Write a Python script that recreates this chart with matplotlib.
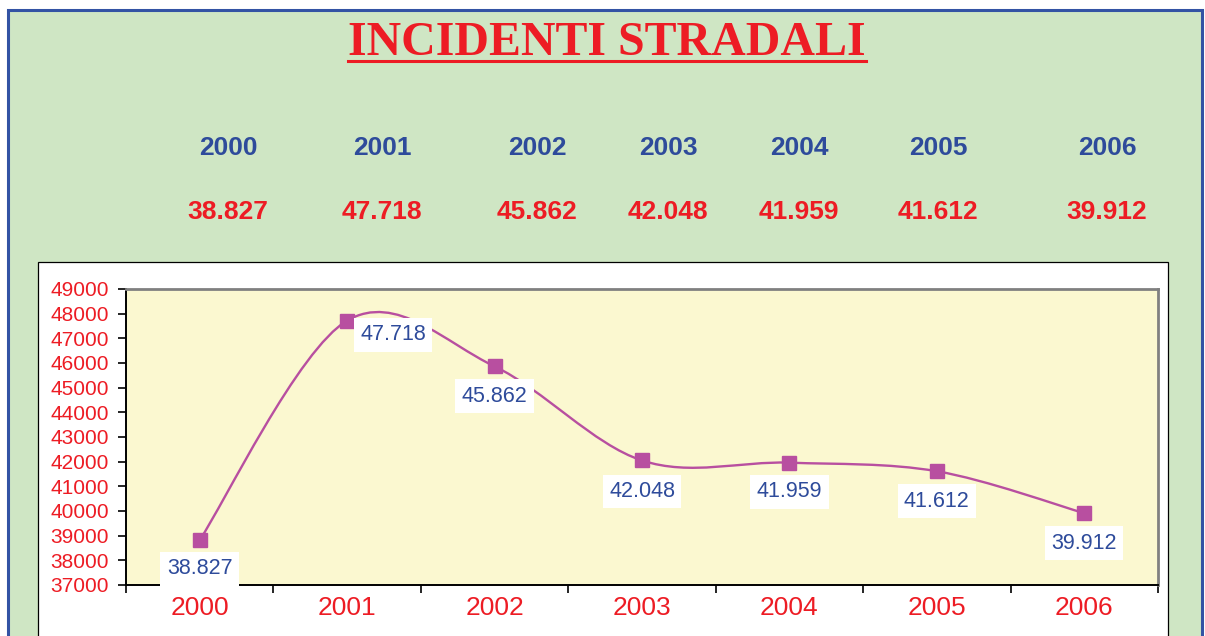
import numpy as np
import matplotlib
matplotlib.use("Agg")
import matplotlib.pyplot as plt
from matplotlib.patches import Rectangle, PathPatch
from matplotlib.path import Path

# data
years = ["2000", "2001", "2002", "2003", "2004", "2005", "2006"]
incidents = [38827, 47718, 45862, 42048, 41959, 41612, 39912]
value_labels = ["38.827", "47.718", "45.862", "42.048", "41.959", "41.612", "39.912"]

# header row x positions (pixels) and label offsets (pixels) - layout only
header_x = [228, 382, 537, 668, 799, 938, 1107]
label_offsets = [(0, -29), (46, -14), (0, -30), (0, -31), (0, -29), (0, -30), (0, -30)]

RED = "#ED1C24"
BLUE = "#2E4B9B"
LINE = "#B84FA0"
GREEN = "#CFE6C4"
YELLOW = "#FBF8D0"

W, H = 1205, 636
fig = plt.figure(figsize=(W / 100, H / 100), dpi=100, facecolor="white")

# background layer in pixel coords
bg = fig.add_axes([0, 0, 1, 1])
bg.set_xlim(0, W)
bg.set_ylim(H, 0)
bg.axis("off")
bg.add_patch(Rectangle((8, 10), 1194, 640, facecolor=GREEN, edgecolor="#3353A4", linewidth=2.2))
bg.add_patch(Rectangle((38, 262), 1130, 400, facecolor="white", edgecolor="black", linewidth=0.9))

# title with underline
bg.text(607, 43, "INCIDENTI STRADALI", color=RED, fontsize=34.5, fontweight="bold",
        family="Liberation Serif", ha="center", va="center")
bg.plot([348, 866], [61, 61], color=RED, linewidth=2.2)

for x, yr, lab in zip(header_x, years, value_labels):
    bg.text(x, 148, yr, color=BLUE, fontsize=19, fontweight="bold", family="Liberation Sans",
            ha="center", va="center")
    bg.text(x, 212, lab, color=RED, fontsize=19, fontweight="bold", family="Liberation Sans",
            ha="center", va="center")

# main chart
ax = fig.add_axes([126 / W, 1 - 585 / H, (1158 - 126) / W, (585 - 289) / H])
ax.set_facecolor(YELLOW)
xs = np.arange(len(years))
ys = np.array(incidents, dtype=float)

# smoothed line (cubic bezier like Excel's smoothing)
pts = np.column_stack([xs, ys])
verts = [pts[0]]
codes = [Path.MOVETO]
n = len(pts)
for i in range(n - 1):
    p0 = pts[i - 1] if i > 0 else pts[i]
    p1 = pts[i]
    p2 = pts[i + 1]
    p3 = pts[i + 2] if i + 2 < n else pts[i + 1]
    c1 = p1 + (p2 - p0) / 6.0
    c2 = p2 - (p3 - p1) / 6.0
    verts += [c1, c2, p2]
    codes += [Path.CURVE4] * 3
ax.add_patch(PathPatch(Path(verts, codes), facecolor="none", edgecolor=LINE, linewidth=1.7, zorder=2))
ax.plot(xs, ys, linestyle="none", marker="s", markersize=10.5, color=LINE, zorder=3)

for x, y, lab, (dx, dy) in zip(xs, ys, value_labels, label_offsets):
    ax.annotate(lab, (x, y), xytext=(dx * 0.72, dy * 0.72), textcoords="offset points",
                ha="center", va="center", fontsize=15.5, color=BLUE, family="Liberation Sans",
                bbox=dict(boxstyle="square,pad=0.3", facecolor="white", edgecolor="none"),
                zorder=5, annotation_clip=False)

ax.set_xlim(-0.5, len(years) - 0.5)
ax.set_ylim(37000, 49000)
ax.set_yticks(np.arange(37000, 49001, 1000))
ax.set_xticks(xs)
ax.set_xticklabels(years)
ax.set_xticks(np.arange(-0.5, len(years), 1), minor=True)
ax.tick_params(axis="x", which="major", length=0, pad=8, labelsize=19, labelcolor=RED)
ax.tick_params(axis="x", which="minor", length=6, width=1.2, direction="out", color="black")
ax.tick_params(axis="y", length=6, width=1.2, direction="out", labelsize=15, labelcolor=RED, pad=6.5)
for lab in ax.get_xticklabels() + ax.get_yticklabels():
    lab.set_family("Liberation Sans")

for side in ["left", "bottom"]:
    ax.spines[side].set_color("black")
    ax.spines[side].set_linewidth(1.4)
for side in ["top", "right"]:
    ax.spines[side].set_color("#808080")
    ax.spines[side].set_linewidth(2.0)

fig.savefig("out.png", dpi=100, facecolor=fig.get_facecolor())
